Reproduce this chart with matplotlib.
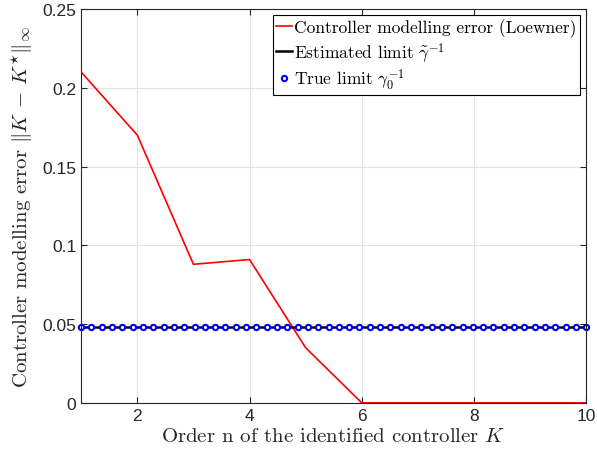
import numpy as np
import matplotlib
matplotlib.use("Agg")
import matplotlib.pyplot as plt

plt.rcParams['mathtext.fontset'] = 'cm'
plt.rcParams['axes.unicode_minus'] = False

# model order vs. controller modelling error (Loewner)
orders = [1, 2, 3, 4, 5, 6, 7, 8, 9, 10]
loewner_err = [0.210, 0.170, 0.088, 0.091, 0.035, 0.0, 0.0, 0.0, 0.0, 0.0]

# limits on the error
est_limit = 0.048
true_limit = 0.048
n_true_pts = 50

x_true = np.linspace(orders[0], orders[-1], n_true_pts)

fig = plt.figure(figsize=(5.97, 4.60), dpi=100)
ax = fig.add_axes([0.136, 0.122, 0.846, 0.856])

ax.plot(orders, loewner_err, color='red', lw=1.2,
        label='Controller modelling error (Loewner)')
ax.plot([orders[0], orders[-1]], [est_limit, est_limit], color='black', lw=1.8,
        label=r'Estimated limit $\tilde{\gamma}^{-1}$')
ax.plot(x_true, np.full(n_true_pts, true_limit), ls='none', marker='o', ms=3.8,
        mfc='white', mec='blue', mew=1.5, label=r'True limit $\gamma_0^{-1}$',
        clip_on=False)

ax.set_xlim(1, 10)
ax.set_ylim(0, 0.25)
ax.set_xticks([2, 4, 6, 8, 10])
ax.set_yticks([0, 0.05, 0.1, 0.15, 0.2, 0.25])
ax.set_yticklabels(['0', '0.05', '0.1', '0.15', '0.2', '0.25'])

ax.grid(True, color='#e3e3e3', lw=0.8)
ax.set_axisbelow(True)
for s in ax.spines.values():
    s.set_color('#262626')
    s.set_linewidth(0.8)
ax.tick_params(direction='in', length=4, width=0.8, colors='#262626',
               labelsize=12.5, top=True, right=True)
for lbl in ax.get_xticklabels() + ax.get_yticklabels():
    lbl.set_fontfamily('Liberation Sans')

ax.set_xlabel(r'Order n of the identified controller $K$', fontsize=15,
              family='cmr10', color='#262626', labelpad=3)
ax.set_ylabel(r'Controller modelling error $\|K\,-\,K^{\star}\|_{\infty}$', fontsize=15,
              family='cmr10', color='#262626', labelpad=5)

leg = ax.legend(loc='upper right', prop={'family': 'cmr10', 'size': 12.5},
                handlelength=0.9, handletextpad=0.15, borderpad=0.2, labelspacing=0.15,
                fancybox=False, framealpha=1, borderaxespad=0.35)
leg.get_frame().set_edgecolor('black')
leg.get_frame().set_linewidth(0.8)

fig.savefig('out.png', dpi=100)
